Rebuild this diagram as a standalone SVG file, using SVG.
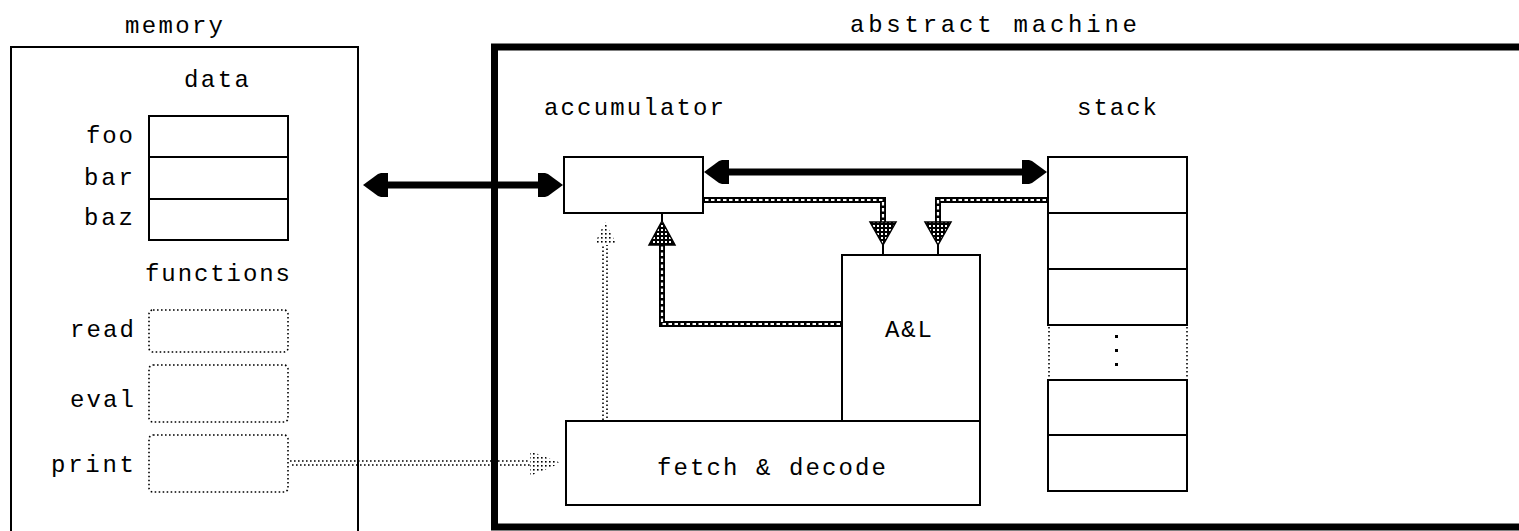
<svg xmlns="http://www.w3.org/2000/svg" width="1519" height="531" viewBox="0 0 1519 531">
<style>
text { font-family: "Liberation Mono", "DejaVu Sans Mono", monospace; font-size: 24px; fill: #000; }
.box { fill: #fff; stroke: #000; stroke-width: 2; }
.frame { fill: none; stroke: #000; stroke-width: 2; }
.am { fill: none; stroke: #000; stroke-width: 7; }
.dbox { fill: none; stroke: #000; stroke-width: 1.6; stroke-dasharray: 1.6 2.4; }
.heavy { stroke: #000; stroke-width: 7; fill: none; }
.chainB { stroke: #000; stroke-width: 6; fill: none; }
.chainW { stroke: #fff; stroke-width: 2.2; fill: none; stroke-dasharray: 3.5 2.5; }
.dot { stroke: #000; stroke-width: 1.6; fill: none; stroke-dasharray: 1.6 2.4; }
.thin { stroke: #000; stroke-width: 2; fill: none; }
.meshHead { fill: url(#mesh); stroke: #000; stroke-width: 1.5; }
.dotHead { fill: url(#dots); stroke: none; }
</style>
<defs>
<marker id="hv" markerUnits="userSpaceOnUse" viewBox="-26 -13 27 26" refX="-8" refY="0" markerWidth="27" markerHeight="26" orient="auto-start-reverse">
<polygon points="0,0 -15,-11 -18,-12 -25,-12 -25,12 -18,12 -15,11" fill="#000"/>
</marker>
<pattern id="mesh" width="4" height="4" patternUnits="userSpaceOnUse">
<rect width="4" height="4" fill="#000"/>
<rect x="1" y="1" width="2" height="2" fill="#fff"/>
</pattern>
<pattern id="dots" width="4" height="4" patternUnits="userSpaceOnUse">
<rect width="4" height="4" fill="#fff"/>
<rect x="1" y="1" width="1.6" height="1.6" fill="#000"/>
</pattern>
</defs>
<rect width="1519" height="531" fill="#fff"/>

<g id="memory">
<rect class="frame" x="11" y="47" width="347" height="500"/>
<text x="125" y="33" textLength="98" lengthAdjust="spacing">memory</text>
<text x="184" y="87" textLength="65" lengthAdjust="spacing">data</text>
<text x="145" y="281" textLength="145" lengthAdjust="spacing">functions</text>
</g>

<g id="data-cells">
<rect class="box" x="149" y="116" width="139" height="41"/>
<rect class="box" x="149" y="157" width="139" height="42"/>
<rect class="box" x="149" y="199" width="139" height="41"/>
<text x="86" y="143" textLength="47" lengthAdjust="spacing">foo</text>
<text x="84" y="185" textLength="49" lengthAdjust="spacing">bar</text>
<text x="84" y="225" textLength="49" lengthAdjust="spacing">baz</text>
</g>

<g id="functions">
<rect class="dbox" x="149" y="310" width="139" height="42" rx="4"/>
<rect class="dbox" x="149" y="365" width="139" height="57" rx="4"/>
<rect class="dbox" x="149" y="435" width="139" height="57" rx="4"/>
<text x="70" y="337" textLength="64" lengthAdjust="spacing">read</text>
<text x="70" y="407" textLength="64" lengthAdjust="spacing">eval</text>
<text x="51" y="472" textLength="83" lengthAdjust="spacing">print</text>
</g>

<g id="abstract-machine">
<rect class="am" x="494.5" y="47" width="1100" height="480"/>
<text x="850" y="32" textLength="287" lengthAdjust="spacing">abstract machine</text>
</g>

<g id="accumulator">
<rect class="box" x="564" y="157" width="139" height="56"/>
<text x="544" y="115" textLength="180" lengthAdjust="spacing">accumulator</text>
</g>

<g id="stack">
<rect class="box" x="1048" y="157" width="139" height="56"/>
<rect class="box" x="1048" y="213" width="139" height="56"/>
<rect class="box" x="1048" y="269" width="139" height="56"/>
<line class="dot" x1="1049" y1="327" x2="1049" y2="379"/>
<line class="dot" x1="1187" y1="327" x2="1187" y2="379"/>
<rect x="1115" y="335" width="3" height="3" fill="#000"/>
<rect x="1115" y="349" width="3" height="3" fill="#000"/>
<rect x="1115" y="363" width="3" height="3" fill="#000"/>
<rect class="box" x="1048" y="380" width="139" height="55"/>
<rect class="box" x="1048" y="435" width="139" height="56"/>
<text x="1077" y="115" textLength="80" lengthAdjust="spacing">stack</text>
</g>

<g id="al">
<rect class="box" x="842" y="255" width="138" height="166"/>
<text x="885" y="337" textLength="47" lengthAdjust="spacing">A&amp;L</text>
</g>

<g id="fetch-decode">
<rect class="box" x="566" y="421" width="414" height="84"/>
<text x="657" y="475" textLength="229" lengthAdjust="spacing">fetch &amp; decode</text>
</g>

<g id="connectors">
<line class="heavy" x1="371" y1="185" x2="555" y2="185" marker-start="url(#hv)" marker-end="url(#hv)"/>
<line class="heavy" x1="712" y1="172" x2="1039" y2="172" marker-start="url(#hv)" marker-end="url(#hv)"/>

<path class="chainB" d="M703 200 H883 V222"/>
<path class="chainW" d="M705 200 H883 V222"/>
<polygon class="meshHead" points="870,222 896,222 883,245"/>
<line class="thin" x1="883" y1="245" x2="883" y2="255"/>

<path class="chainB" d="M1048 200 H938 V222"/>
<path class="chainW" d="M1046 200 H938 V222"/>
<polygon class="meshHead" points="925,222 951,222 938,245"/>
<line class="thin" x1="938" y1="245" x2="938" y2="255"/>

<path class="chainB" d="M842 324 H662 V245"/>
<path class="chainW" d="M840 324 H662 V245"/>
<polygon class="meshHead" points="649,245 675,245 662,221"/>
<line class="thin" x1="662" y1="221" x2="662" y2="213"/>

<line class="dot" x1="603" y1="420" x2="603" y2="245"/>
<line class="dot" x1="607" y1="420" x2="607" y2="245" stroke-dashoffset="2"/>
<polygon class="dotHead" points="594,245 617,245 605,222"/>

<line class="dot" x1="290" y1="461" x2="532" y2="461"/>
<line class="dot" x1="290" y1="465" x2="532" y2="465" stroke-dashoffset="2"/>
<polygon class="dotHead" points="530,451 561,463 530,476"/>
</g>
</svg>
